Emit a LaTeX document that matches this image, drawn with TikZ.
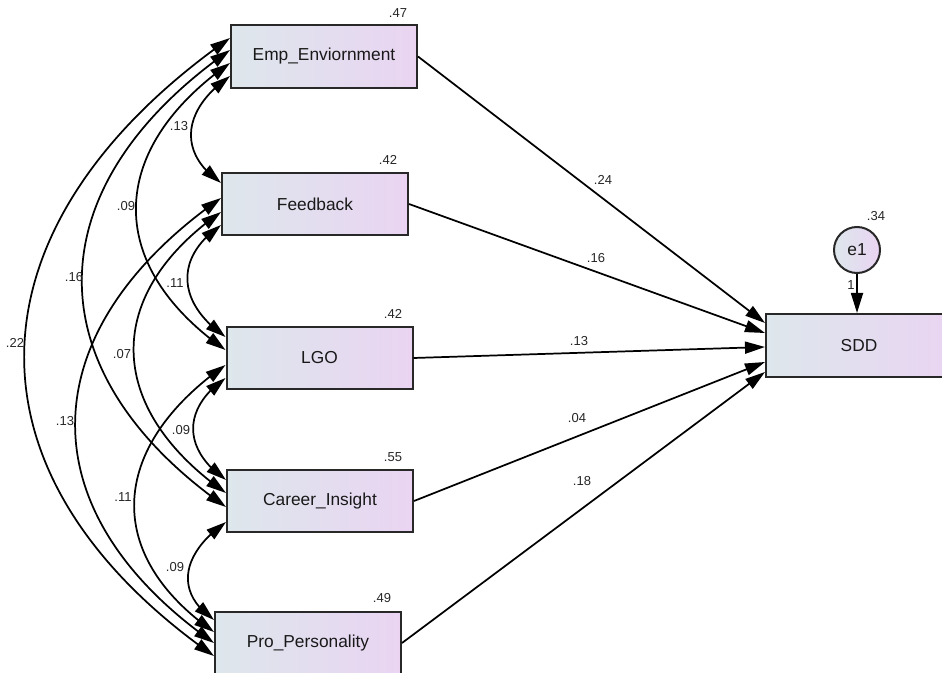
\documentclass[tikz,border=0pt]{standalone}
\usepackage{fontspec}
\setmainfont{Liberation Sans}
\usetikzlibrary{arrows.meta,bending,calc}
\definecolor{boxleft}{RGB}{221,231,236}
\definecolor{boxright}{RGB}{234,212,242}
\definecolor{edgecol}{RGB}{40,40,40}
\begin{document}
\begin{tikzpicture}[x=0.75pt,y=-0.75pt,
  varbox/.style={draw=edgecol, line width=1.5pt, left color=boxleft, right color=boxright,
    minimum width=139.5pt, minimum height=46.5pt, inner sep=0pt,
    font=\fontsize{13}{15}\selectfont, text=black!90},
  errnode/.style={circle, draw=edgecol, line width=1.5pt, left color=boxleft, right color=boxright,
    minimum size=34.5pt, inner sep=0pt, font=\fontsize{13}{15}\selectfont, text=black!90},
  numlab/.style={font=\fontsize{9.75}{11}\selectfont, inner sep=0pt, text=black!85},
  regline/.style={line width=1.3pt, -{Triangle[length=15pt,width=9pt]}},
  cov/.style={line width=1.3pt, {Triangle[length=15pt,width=9pt]}-{Triangle[length=15pt,width=9pt]},
    out=215, in=145, looseness=1.33},
]
\useasboundingbox (0,0) rectangle (942,673);
\clip (0,0) rectangle (942,673);

% variables
\node[varbox, minimum height=47.25pt] (emp) at (324,56.5) {Emp\_Enviornment};
\node[varbox] (fb) at (315,204) {Feedback};
\node[varbox] (lgo) at (319.5,358) {LGO};
\node[varbox] (ci) at (320,501) {Career\_Insight};
\node[varbox] (pp) at (308,643) {Pro\_Personality};
\node[varbox, minimum height=47.25pt] (sdd) at (859,345.5) {SDD};
\node[errnode] (e1) at (857,250) {e1};

% regression paths
\draw[regline] (emp.east) -- ($(sdd.west)+(0,-22.5)$);
\draw[regline] (fb.east) -- ($(sdd.west)+(0,-12.5)$);
\draw[regline] (lgo.east) -- ($(sdd.west)+(0,1.5)$);
\draw[regline] (ci.east) -- ($(sdd.west)+(0,16.5)$);
\draw[regline] (pp.east) -- ($(sdd.west)+(0,26.5)$);
\draw[regline] (e1.south) -- (e1.south |- sdd.north);

% covariances
\draw[cov] ($(emp.west)+(0,19.5)$) to ($(fb.west)+(0,-21)$);
\draw[cov] ($(emp.west)+(0,6.5)$) to ($(lgo.west)+(0,-8)$);
\draw[cov] ($(emp.west)+(0,-6.5)$) to ($(ci.west)+(0,6)$);
\draw[cov] ($(emp.west)+(0,-18.5)$) to ($(pp.west)+(0,13)$);
\draw[cov] ($(fb.west)+(0,21)$) to ($(lgo.west)+(0,-21)$);
\draw[cov] ($(fb.west)+(0,8)$) to ($(ci.west)+(0,-8)$);
\draw[cov] ($(fb.west)+(0,-6)$) to ($(pp.west)+(0,0)$);
\draw[cov] ($(lgo.west)+(0,20)$) to ($(ci.west)+(0,-21)$);
\draw[cov] ($(lgo.west)+(0,7)$) to ($(pp.west)+(0,-11)$);
\draw[cov] ($(ci.west)+(0,21)$) to ($(pp.west)+(0,-23)$);

% R-squared labels
\node[numlab] (r1) at (398,13) {.47};
\node[numlab] (r2) at (388,160) {.42};
\node[numlab] (r3) at (393,314) {.42};
\node[numlab] (r4) at (393,457) {.55};
\node[numlab] (r5) at (382,598) {.49};
\node[numlab] (r6) at (876,216) {.34};
\node[numlab] (one) at (851,285) {1};

% path coefficients
\node[numlab] (p1) at (603,180) {.24};
\node[numlab] (p2) at (596,258) {.16};
\node[numlab] (p3) at (579,341) {.13};
\node[numlab] (p4) at (577,418) {.04};
\node[numlab] (p5) at (582,481) {.18};

% covariance labels
\node[numlab] (c1) at (179,126) {.13};
\node[numlab] (c2) at (126,206) {.09};
\node[numlab] (c3) at (74,277) {.16};
\node[numlab] (c4) at (15,343) {.22};
\node[numlab] (c5) at (175,283) {.11};
\node[numlab] (c6) at (122,354) {.07};
\node[numlab] (c7) at (65,421) {.13};
\node[numlab] (c8) at (181,430) {.09};
\node[numlab] (c9) at (123,497) {.11};
\node[numlab] (c10) at (175,567) {.09};
\end{tikzpicture}
\end{document}
